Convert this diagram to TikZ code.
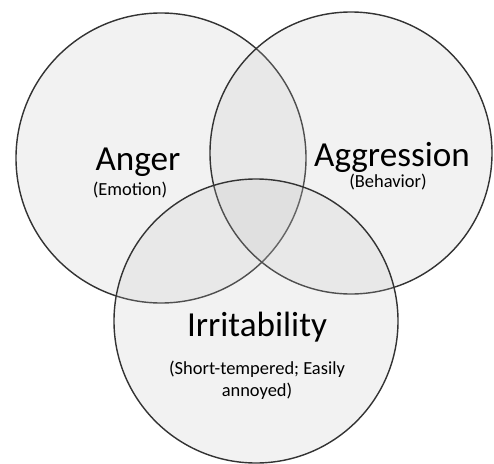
\documentclass[tikz,border=0pt]{standalone}
\usepackage{fontspec}
\setmainfont{Carlito}
\usepackage{tikz}
\usetikzlibrary{positioning}

\pgfdeclareradialshading{vennglow}{\pgfpoint{0bp}{0bp}}{%
  color(0bp)=(black!25); color(38bp)=(black!25);
  color(46bp)=(black!45); color(50bp)=(black!95)}

\begin{document}
\begin{tikzpicture}[
  venn/.style={
    circle, draw=black!80, line width=0.8pt,
    shading=vennglow, fill opacity=0.2,
    minimum size=#1, inner sep=0pt
  },
  title/.style={
    font=\fontsize{20}{24}\selectfont, inner sep=0pt, text=black
  },
  sub/.style={
    font=\fontsize{10.5}{12.5}\selectfont, inner sep=0pt,
    align=center, text=black
  }
]
\useasboundingbox (0,0) rectangle (9.88,9.26);

%% ---------------------------------------------
%% Kreise
%% ---------------------------------------------
\node[venn=5.80cm] (anger) at (3.22, 6.10) {};
\node[venn=5.64cm] (aggression) at (7.02, 6.20) {};
\node[venn=5.68cm] (irritability) at (5.12, 2.84) {};

%% ---------------------------------------------
%% Beschriftungen
%% ---------------------------------------------
\node[title] (angerlbl) at (2.76, 6.02) {Anger};
\node[sub, below=0.10cm of angerlbl, xshift=-0.16cm] (angersub) {(Emotion)};

\node[title] (aggrlbl) at (7.84, 6.12) {Aggression};
\node[sub, below=0.02cm of aggrlbl, xshift=-0.08cm] (aggrsub) {(Behavior)};

\node[title] (irrlbl) at (5.14, 2.72) {Irritability};
\node[sub, below=0.36cm of irrlbl] (irrsub)
  {(Short-tempered; Easily\\annoyed)};

\end{tikzpicture}
\end{document}
